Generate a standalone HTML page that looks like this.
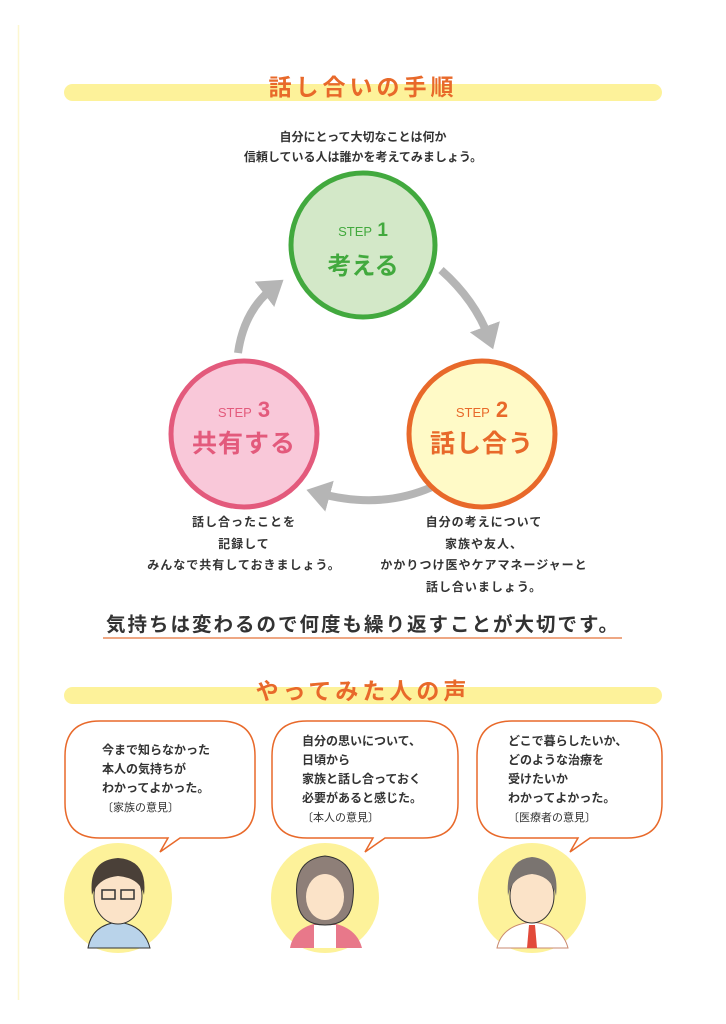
<!DOCTYPE html>
<html><head><meta charset="utf-8">
<style>
body{margin:0;background:#fff}
#p{position:relative;width:726px;height:1024px;overflow:hidden;font-family:"Liberation Sans","Noto Sans CJK JP",sans-serif;font-weight:bold;color:#333}
.t{position:absolute;white-space:nowrap;text-align:center}
svg{position:absolute;left:0;top:0}
</style></head><body><div id="p">
<svg width="726" height="1024">
<line x1="18.5" y1="25" x2="18.5" y2="1000" stroke="#fdf7d0" stroke-width="1.5"/>
<rect x="64" y="84" width="598" height="17" rx="8.5" fill="#fdf29a"/>
<rect x="64" y="687" width="598" height="17" rx="8.5" fill="#fdf29a"/>
<defs><marker id="a" markerWidth="4" markerHeight="4" refX="1.5" refY="2" orient="auto" markerUnits="strokeWidth"><path d="M0,0 L3,2 L0,4 Z" fill="#b5b5b5"/></marker></defs>
<path d="M441,270 Q475,300 489,338" fill="none" stroke="#b5b5b5" stroke-width="8" marker-end="url(#a)"/>
<path d="M432,487 Q380,510 318,493" fill="none" stroke="#b5b5b5" stroke-width="8" marker-end="url(#a)"/>
<path d="M238,353 Q244,310 274,287" fill="none" stroke="#b5b5b5" stroke-width="8" marker-end="url(#a)"/>
<circle cx="363" cy="245" r="72" fill="#d3e8c8" stroke="#42a93e" stroke-width="5"/>
<circle cx="482" cy="434" r="73" fill="#fffac7" stroke="#e8692a" stroke-width="5"/>
<circle cx="244" cy="434" r="73" fill="#f9c8d9" stroke="#e35a7c" stroke-width="5"/>
<line x1="103" y1="638" x2="622" y2="638" stroke="#e88a5a" stroke-width="1.5"/>
<g fill="#fff" stroke="#e8692a" stroke-width="1.5">
<path d="M100,721 H220 Q255,721 255,756 V803 Q255,838 220,838 H180 L160,852 L168,838 H100 Q65,838 65,803 V756 Q65,721 100,721 Z"/>
<path d="M307,721 H423 Q458,721 458,756 V803 Q458,838 423,838 H385 L365,852 L373,838 H307 Q272,838 272,803 V756 Q272,721 307,721 Z"/>
<path d="M512,721 H627 Q662,721 662,756 V803 Q662,838 627,838 H590 L570,852 L578,838 H512 Q477,838 477,803 V756 Q477,721 512,721 Z"/>
</g>
<ellipse cx="118" cy="898" rx="54" ry="55" fill="#fdf29a"/>
<ellipse cx="325" cy="898" rx="54" ry="55" fill="#fdf29a"/>
<ellipse cx="532" cy="898" rx="54" ry="55" fill="#fdf29a"/>
<path d="M88,948 Q92,925 118,922 Q144,925 150,948 Z" fill="#b9d3ea" stroke="#333" stroke-width="1"/>
<ellipse cx="118" cy="896" rx="24" ry="28" fill="#fbe3c8" stroke="#333"/>
<path d="M92,895 Q88,860 118,858 Q148,860 144,895 Q140,878 118,876 Q98,878 92,895Z" fill="#4a4038"/>
<rect x="102" y="890" width="13" height="9" fill="none" stroke="#333" stroke-width="1.5"/><rect x="121" y="890" width="13" height="9" fill="none" stroke="#333" stroke-width="1.5"/>
<path d="M290,948 Q294,925 325,922 Q356,925 362,948 Z" fill="#e8788a"/>
<path d="M314,948 V925 H336 V948Z" fill="#fff"/>
<path d="M298,905 Q290,860 325,856 Q360,860 352,905 Q348,925 325,925 Q302,925 298,905Z" fill="#8e7f78" stroke="#333"/>
<ellipse cx="325" cy="897" rx="19" ry="23" fill="#fbe3c8"/>
<path d="M497,948 Q502,925 532,922 Q562,925 568,948 Z" fill="#fff" stroke="#c98a70"/>
<path d="M529,925 L535,925 L537,948 L527,948Z" fill="#e24a3a"/>
<ellipse cx="532" cy="896" rx="22" ry="27" fill="#fbe3c8" stroke="#333"/>
<path d="M508,896 Q505,860 532,857 Q560,860 556,896 Q552,876 532,874 Q512,876 508,896Z" fill="#7a7470"/>
</svg>
<div class="t" style="left:0;width:726px;top:68px;font-size:23px;color:#e8692a;letter-spacing:4px">話し合いの手順</div>
<div class="t" style="left:0;width:726px;top:127px;font-size:12px;line-height:20px">自分にとって大切なことは何か<br>信頼している人は誰かを考えてみましょう。</div>
<div class="t" style="left:291px;width:144px;top:222px;font-size:13px;color:#42a93e;line-height:18px;font-weight:normal">STEP<span style="font-size:19px;font-weight:bold"> 1</span></div>
<div class="t" style="left:291px;width:144px;top:246px;font-size:24px;color:#42a93e">考える</div>
<div class="t" style="left:410px;width:144px;top:399px;font-size:13px;color:#e8692a;line-height:22px;font-weight:normal">STEP<span style="font-size:22px;font-weight:bold"> 2</span></div>
<div class="t" style="left:410px;width:144px;top:424px;font-size:25px;color:#e8692a;letter-spacing:1px">話し合う</div>
<div class="t" style="left:172px;width:144px;top:399px;font-size:13px;color:#e35a7c;line-height:22px;font-weight:normal">STEP<span style="font-size:22px;font-weight:bold"> 3</span></div>
<div class="t" style="left:172px;width:144px;top:424px;font-size:25px;color:#e35a7c;letter-spacing:1px">共有する</div>
<div class="t" style="left:144px;width:200px;top:512px;font-size:12px;line-height:21.5px;letter-spacing:1px">話し合ったことを<br>記録して<br>みんなで共有しておきましょう。</div>
<div class="t" style="left:364px;width:240px;top:512px;font-size:12px;line-height:21.5px;letter-spacing:1px">自分の考えについて<br>家族や友人、<br>かかりつけ医やケアマネージャーと<br>話し合いましょう。</div>
<div class="t" style="left:0;width:726px;top:608px;font-size:19.5px;letter-spacing:2px;color:#333">気持ちは変わるので何度も繰り返すことが大切です。</div>
<div class="t" style="left:0;width:726px;top:672px;font-size:23px;color:#e8692a;letter-spacing:4px">やってみた人の声</div>
<div class="t" style="left:102px;top:741px;font-size:12px;line-height:19px;text-align:left">今まで知らなかった<br>本人の気持ちが<br>わかってよかった。<br><span style="font-weight:normal;font-size:11px">〔家族の意見〕</span></div>
<div class="t" style="left:302px;top:732px;font-size:12px;line-height:19px;text-align:left">自分の思いについて、<br>日頃から<br>家族と話し合っておく<br>必要があると感じた。<br><span style="font-weight:normal;font-size:11px">〔本人の意見〕</span></div>
<div class="t" style="left:508px;top:732px;font-size:12px;line-height:19px;text-align:left">どこで暮らしたいか、<br>どのような治療を<br>受けたいか<br>わかってよかった。<br><span style="font-weight:normal;font-size:11px">〔医療者の意見〕</span></div>
</div></body></html>
